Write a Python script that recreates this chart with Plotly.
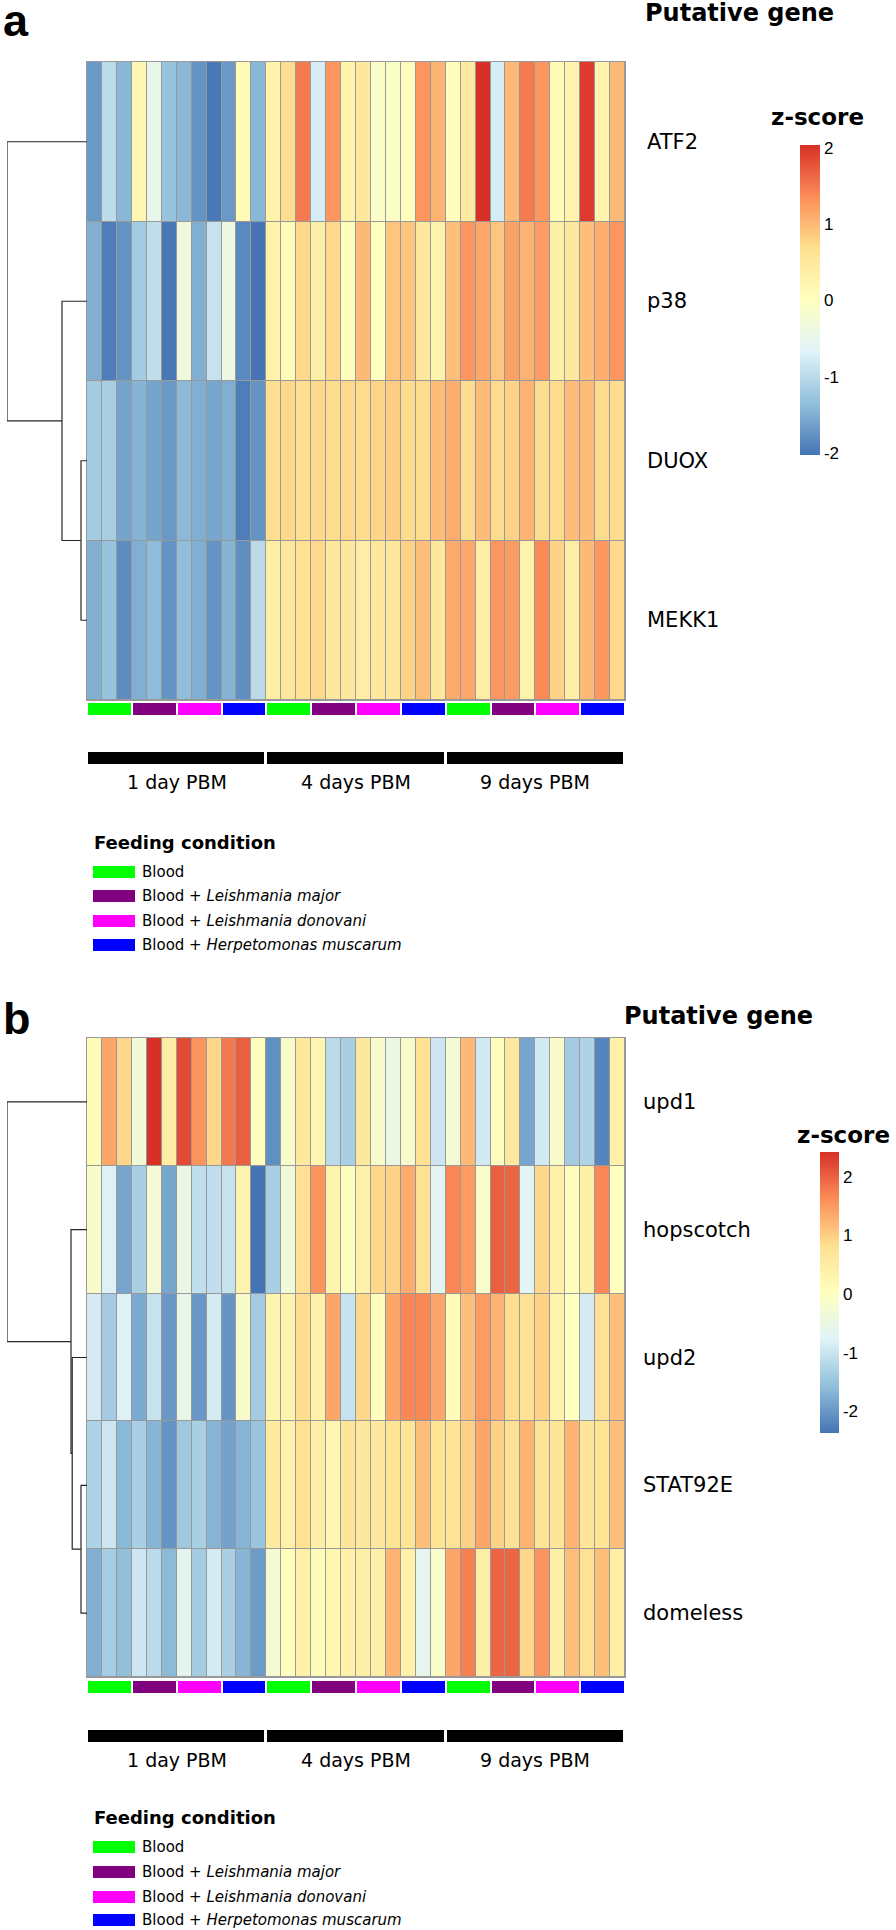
import plotly.graph_objects as go

W, H = 896, 1930

# ---------------- data ----------------
time_points = ["1 day PBM", "4 days PBM", "9 days PBM"]
conditions = ["Blood", "Blood + <i>Leishmania major</i>",
              "Blood + <i>Leishmania donovani</i>", "Blood + <i>Herpetomonas muscarum</i>"]
condition_colors = ["#00FF00", "#800080", "#FF00FF", "#0000FF"]

sample_time = [0, 0, 0, 0, 0, 0, 0, 0, 0, 0, 0, 0,
               1, 1, 1, 1, 1, 1, 1, 1, 1, 1, 1, 1,
               2, 2, 2, 2, 2, 2, 2, 2, 2, 2, 2, 2]
sample_condition = [0, 0, 0, 1, 1, 1, 2, 2, 2, 3, 3, 3,
                    0, 0, 0, 1, 1, 1, 2, 2, 2, 3, 3, 3,
                    0, 0, 0, 1, 1, 1, 2, 2, 2, 3, 3, 3]

# Panel a
genes_a = ["ATF2", "p38", "DUOX", "MEKK1"]
atf2 = [-1.7, -0.98, -1.42, 0.2, -0.5, -1.3, -1.42, -1.75, -2.0, -1.7, 0.12, -1.42,
        0.3, 0.7, 1.5, -0.75, 1.3, 0.3, 0.5, -0.1, -0.08, 0.05, 1.3, 1.05,
        0.02, 0.45, 2.04, -0.75, 1.0, 1.5, 1.3, 0.08, 0.3, 1.95, 0.25, 1.0]
p38 = [-1.5, -1.95, -1.75, -1.2, -0.95, -2.0, -0.35, -1.5, -0.9, -0.4, -1.85, -2.03,
       0.3, 0.08, 0.75, 0.35, 0.75, 0.05, 1.0, 0.0, 0.9, 0.9, 0.5, 0.3,
       0.95, 1.3, 1.15, 0.9, 1.2, 1.05, 1.25, 0.35, 0.5, 0.95, 1.1, 1.3]
duox = [-1.2, -1.15, -1.6, -1.45, -1.6, -1.7, -1.4, -1.5, -1.58, -1.5, -1.95, -1.75,
        0.7, 0.75, 0.7, 0.75, 0.72, 0.75, 0.72, 0.78, 0.85, 0.72, 0.72, 0.98,
        1.1, 0.72, 0.98, 0.72, 0.8, 1.05, 0.72, 0.72, 0.98, 0.98, 0.72, 0.72]
mekk1 = [-1.5, -1.3, -1.82, -1.5, -1.38, -1.75, -1.35, -1.5, -1.75, -1.45, -1.8, -1.0,
         0.4, 0.5, 0.65, 0.75, 0.5, 0.5, 0.4, 0.5, 0.5, 0.8, 0.95, 0.5,
         1.12, 1.15, 0.4, 1.3, 1.22, 0.3, 1.38, 0.8, 0.4, 1.0, 1.28, 0.75]
zrange_a = [-2.03, 2.04]
# dendrogram merges: (left, right, height); leaves by name, nodes by index "n<k>"
merges_a = [("DUOX", "MEKK1", 0.3), ("p38", "n0", 1.25), ("ATF2", "n1", 4.0)]

# Panel b
genes_b = ["upd1", "hopscotch", "upd2", "STAT92E", "domeless"]
upd1 = [0.14, 1.38, 0.91, -0.33, 2.42, 0.49, 2.2, 1.55, 0.91, 1.79, 2.02, 0.08,
        -2.09, -0.15, 0.61, 0.26, -1.15, -1.33, 0.61, -0.15, -0.5, -0.15, 0.79, -0.97,
        -0.27, 1.2, -0.91, 0.08, 0.61, -1.85, -0.91, -0.15, -1.38, -1.27, -2.2, 0.38]
hopscotch = [-0.15, -0.8, -1.85, -1.33, -0.27, -1.83, -0.5, -1.09, -1.09, -1.03, 0.32, -2.37,
             -1.33, -0.33, 0.79, 1.55, 0.32, 0.08, 0.38, 0.91, 0.96, 1.32, 0.79, -0.68,
             1.67, 1.49, -0.12, 2.02, 1.96, -0.74, 0.91, 0.38, 0.08, 0.44, 1.67, 0.03]
upd2 = [-0.89, -1.38, -0.8, -1.8, -1.03, -1.99, -0.56, -1.99, -0.89, -2.03, -0.15, -1.38,
        0.32, 0.32, 0.85, 0.38, 1.38, -1.03, 0.91, 0.06, 1.38, 1.67, 1.67, 1.38,
        0.12, 1.14, 1.49, 1.26, 0.85, 0.79, 0.96, 0.32, 0.03, -0.89, 0.79, 1.14]
stat92e = [-1.27, -0.97, -1.64, -1.33, -1.68, -2.03, -1.44, -1.33, -1.68, -1.88, -1.68, -1.48,
           0.55, 0.38, 0.79, 0.44, 0.26, 0.67, 0.61, 0.61, 0.73, 0.73, 1.14, 0.73,
           0.73, 0.96, 1.38, 0.96, 0.79, 1.26, 0.73, 0.67, 1.26, 0.67, 0.73, 1.14]
domeless = [-1.74, -1.36, -1.56, -0.97, -1.15, -1.62, -0.68, -1.38, -0.89, -1.33, -1.68, -1.95,
            -0.27, 0.08, 0.38, 0.14, 0.26, 0.38, 0.44, 0.44, 1.26, 0.38, -0.62, -0.12,
            1.38, 1.73, 0.44, 1.96, 1.96, 0.91, 1.55, 0.44, 1.14, 0.79, 1.14, 0.44]
zrange_b = [-2.37, 2.42]
merges_b = [("STAT92E", "domeless", 0.3), ("upd2", "n0", 0.74),
            ("hopscotch", "n1", 0.80), ("upd1", "n2", 4.0)]

colorbar_ticks = [-2, -1, 0, 1, 2]

# ---------------- styling ----------------
RDYLBU = ["#4575B4", "#91BFDB", "#E0F3F8", "#FFFFBF", "#FEE090", "#FC8D59", "#D73027"]
heat_scale = [[i / (len(RDYLBU) - 1), c] for i, c in enumerate(RDYLBU)]
GRID = "#999999"
FONT = "DejaVu Sans"


def fx(p):
    return p / W


def fy(p):
    return 1 - p / H


def runs(keys):
    out, start = [], 0
    for i in range(1, len(keys) + 1):
        if i == len(keys) or keys[i] != keys[start]:
            out.append((keys[start], start + 1, i))
            start = i
    return out


fig = go.Figure()
layout_axes = {}
shapes = []
annotations = []


def axis_name(k):
    return ("x" if k == 1 else f"x{k}"), ("y" if k == 1 else f"y{k}")


def add_panel(first_axis, letter, genes, rows, zr, merges, geo):
    ncol = len(rows[0])
    nrow = len(genes)
    kx_h, ky_h = axis_name(first_axis)
    kx_d, ky_d = axis_name(first_axis + 1)
    kx_c, ky_c = axis_name(first_axis + 2)
    kx_t, ky_t = axis_name(first_axis + 3)

    hx0, hx1, hy0, hy1 = geo["heat"]
    xr = [0.5, ncol + 0.5]
    yr = [nrow - 0.5, -0.5]

    # main heatmap
    fig.add_trace(go.Heatmap(
        z=rows, x=list(range(1, ncol + 1)), y=list(range(nrow)),
        colorscale=heat_scale, zmin=zr[0], zmax=zr[1], xgap=1, ygap=1,
        hoverinfo="skip", xaxis=kx_h, yaxis=ky_h,
        colorbar=dict(thickness=geo["cb"][1] - geo["cb"][0], thicknessmode="pixels",
                      len=geo["cb"][3] - geo["cb"][2], lenmode="pixels",
                      x=fx(geo["cb"][0]), xanchor="left", y=fy(geo["cb"][2]), yanchor="top",
                      xpad=0, ypad=0, outlinewidth=0, ticks="",
                      tickvals=colorbar_ticks, ticktext=[str(t) for t in colorbar_ticks],
                      tickfont=dict(family="Liberation Sans", size=17, color="black"),
                      title=dict(text=""))))
    ax = dict(showline=True, mirror=True, linecolor=GRID, linewidth=1, showticklabels=False,
              ticks="", showgrid=False, zeroline=False, fixedrange=True)
    layout_axes["xaxis" if first_axis == 1 else f"xaxis{first_axis}"] = dict(
        domain=[fx(hx0), fx(hx1)], range=xr, anchor=ky_h, **ax)
    layout_axes["yaxis" if first_axis == 1 else f"yaxis{first_axis}"] = dict(
        domain=[fy(hy1), fy(hy0)], range=yr, anchor=kx_h, **ax)
    shapes.append(dict(type="rect", xref=kx_h, yref=ky_h, x0=xr[0], x1=xr[1], y0=yr[1], y1=yr[0],
                       fillcolor=GRID, line=dict(width=0), layer="below"))

    # dendrogram
    pos = {g: (0.0, float(i)) for i, g in enumerate(genes)}
    xs, ys = [], []
    for k, (a, b, h) in enumerate(merges):
        (xa, ya), (xb, yb) = pos[a], pos[b]
        xs += [xa, h, h, xb, None]
        ys += [ya, ya, yb, yb, None]
        pos[f"n{k}"] = (h, (ya + yb) / 2)
    fig.add_trace(go.Scatter(x=xs, y=ys, mode="lines", line=dict(color="#262626", width=1.2),
                             hoverinfo="skip", showlegend=False, xaxis=kx_d, yaxis=ky_d))
    hmax = max(m[2] for m in merges)
    layout_axes[f"xaxis{first_axis + 1}"] = dict(domain=[fx(geo["dendro_x0"]), fx(hx0)],
                                                 range=[hmax, 0], visible=False, fixedrange=True,
                                                 anchor=ky_d)
    layout_axes[f"yaxis{first_axis + 1}"] = dict(domain=[fy(hy1), fy(hy0)], range=yr,
                                                 visible=False, fixedrange=True, anchor=kx_d)

    # condition strip
    cr = runs(list(zip(sample_time, sample_condition)))
    fig.add_trace(go.Heatmap(
        z=[[key[1] for key, s, e in cr]], x=[(s + e) / 2 for key, s, e in cr], y=[0],
        colorscale=[[i / (len(condition_colors) - 1), c] for i, c in enumerate(condition_colors)],
        zmin=0, zmax=len(condition_colors) - 1, showscale=False, xgap=2, hoverinfo="skip",
        xaxis=kx_c, yaxis=ky_c))
    cy0, cy1 = geo["cond"]
    layout_axes[f"xaxis{first_axis + 2}"] = dict(domain=[fx(hx0), fx(hx1)], range=xr,
                                                 visible=False, fixedrange=True, anchor=ky_c)
    layout_axes[f"yaxis{first_axis + 2}"] = dict(domain=[fy(cy1), fy(cy0)], range=[-0.5, 0.5],
                                                 visible=False, fixedrange=True, anchor=kx_c)

    # time strip
    tr = runs(sample_time)
    fig.add_trace(go.Heatmap(
        z=[[key for key, s, e in tr]], x=[(s + e) / 2 for key, s, e in tr], y=[0],
        colorscale=[[0, "black"], [1, "black"]], showscale=False, xgap=3, hoverinfo="skip",
        xaxis=kx_t, yaxis=ky_t))
    ty0, ty1 = geo["time"]
    layout_axes[f"xaxis{first_axis + 3}"] = dict(domain=[fx(hx0), fx(hx1)], range=xr,
                                                 visible=False, fixedrange=True, anchor=ky_t)
    layout_axes[f"yaxis{first_axis + 3}"] = dict(domain=[fy(ty1), fy(ty0)], range=[-0.5, 0.5],
                                                 visible=False, fixedrange=True, anchor=kx_t)
    for key, s, e in tr:
        annotations.append(dict(text=time_points[key], x=(s + e) / 2, xref=kx_t,
                                y=fy(geo["time_label"]), yref="paper", xanchor="center",
                                yanchor="middle", showarrow=False,
                                font=dict(family=FONT, size=19, color="black")))

    # row labels
    for i, g in enumerate(genes):
        annotations.append(dict(text=g, x=fx(geo["row_label_x"]), xref="paper", y=i, yref=ky_h,
                                xanchor="left", yanchor="middle", showarrow=False,
                                font=dict(family=FONT, size=21, color="black")))

    # titles
    annotations.append(dict(text=f"<b>{letter}</b>", x=fx(1), y=fy(geo["letter_y"]),
                            xref="paper", yref="paper", xanchor="left", yanchor="middle",
                            showarrow=False,
                            font=dict(family="Liberation Sans", size=45, color="black")))
    annotations.append(dict(text="<b>Putative gene</b>", x=fx(geo["pg"][0]), y=fy(geo["pg"][1]),
                            xref="paper", yref="paper", xanchor="left", yanchor="middle",
                            showarrow=False, font=dict(family=FONT, size=24, color="black")))
    annotations.append(dict(text="<b>z-score</b>", x=fx(geo["zs"][0]), y=fy(geo["zs"][1]),
                            xref="paper", yref="paper", xanchor="center", yanchor="middle",
                            showarrow=False, font=dict(family=FONT, size=23, color="black")))

    # feeding condition legend
    annotations.append(dict(text="<b>Feeding condition</b>", x=fx(92), y=fy(geo["feed_y"]),
                            xref="paper", yref="paper", xanchor="left", yanchor="middle",
                            showarrow=False, font=dict(family=FONT, size=18, color="black")))
    for c, (name, col) in enumerate(zip(conditions, condition_colors)):
        cy = geo["legend_y"][c]
        shapes.append(dict(type="rect", xref="paper", yref="paper", x0=fx(93), x1=fx(135),
                           y0=fy(cy + 6), y1=fy(cy - 6), fillcolor=col, line=dict(width=0)))
        annotations.append(dict(text=name, x=fx(140), y=fy(cy), xref="paper", yref="paper",
                                xanchor="left", yanchor="middle", showarrow=False,
                                font=dict(family=FONT, size=15, color="black")))


geo_a = dict(heat=(87, 625, 62, 700), dendro_x0=7, cb=(800, 820, 145, 455), cond=(703, 715),
             time=(752, 764), time_label=782, row_label_x=645, letter_y=20, pg=(643, 13),
             zs=(817, 117), feed_y=843, legend_y=[872, 896, 921, 945])
geo_b = dict(heat=(87, 625, 1038, 1677), dendro_x0=7, cb=(820, 839, 1152, 1433), cond=(1681, 1693),
             time=(1730, 1742), time_label=1760, row_label_x=641, letter_y=1019, pg=(622, 1016),
             zs=(843, 1135), feed_y=1817, legend_y=[1847, 1872, 1897, 1920])

add_panel(1, "a", genes_a, [atf2, p38, duox, mekk1], zrange_a, merges_a, geo_a)
add_panel(5, "b", genes_b, [upd1, hopscotch, upd2, stat92e, domeless], zrange_b, merges_b, geo_b)

fig.update_layout(width=W, height=H, margin=dict(l=0, r=0, t=0, b=0),
                  paper_bgcolor="white", plot_bgcolor="white", showlegend=False,
                  shapes=shapes, annotations=annotations, **layout_axes)

fig.write_html("out.html", config={"displayModeBar": False},
               post_script="document.body.style.margin='0px';document.body.style.overflow='hidden';")
